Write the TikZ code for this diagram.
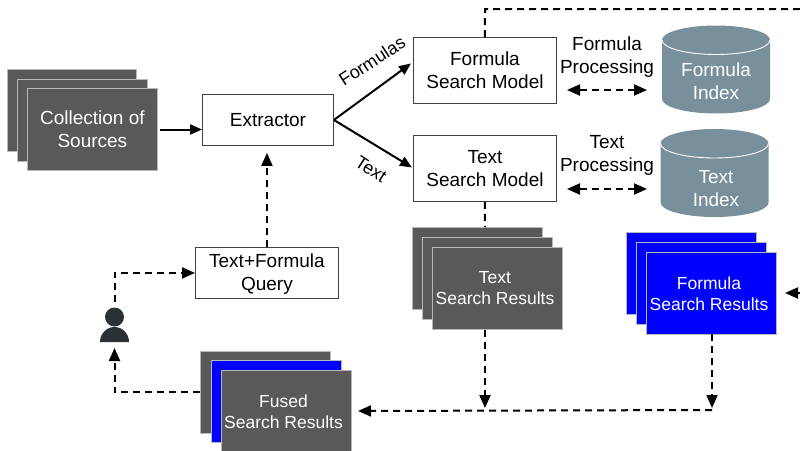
\documentclass[tikz,border=0pt]{standalone}
\usepackage{fontspec}
\setmainfont{Liberation Sans}
\usetikzlibrary{arrows.meta,calc}
\definecolor{stackgrey}{HTML}{595959}
\definecolor{dbcol}{HTML}{78909C}
\definecolor{pure}{HTML}{0000FF}
\definecolor{usercol}{HTML}{2B3035}
\tikzset{
  x=1pt,y=-1pt,
  bigtext/.style={font=\fontsize{19}{23}\selectfont},
  smalltext/.style={font=\fontsize{17.5}{21}\selectfont},
  whitebox/.style={draw=black!75,line width=0.9pt,fill=white,text=black,align=center,bigtext,inner sep=0pt,anchor=north west},
  sheet/.style={draw=white!72!black,line width=0.8pt,fill=#1,anchor=north west,minimum width=130pt,minimum height=82pt,inner sep=0pt},
  solidarrow/.style={draw=black,line width=2pt,-{Triangle[length=12pt,width=10pt]}},
  dasharrow/.style={draw=black,line width=2pt,dash pattern=on 7pt off 5pt,-{Triangle[length=13pt,width=11pt]}},
  dashboth/.style={draw=black,line width=2pt,dash pattern=on 7pt off 5pt,{Triangle[length=13pt,width=11pt]}-{Triangle[length=13pt,width=11pt]}},
  dashline/.style={draw=black,line width=2pt,dash pattern=on 7pt off 5pt},
  lbl/.style={align=center,bigtext,inner sep=0pt},
  edgelbl/.style={align=center,font=\fontsize{18}{22}\selectfont,inner sep=0pt},
  sheetlbl/.style={align=center,smalltext,inner sep=0pt,text=white},
  dbfill/.style={fill=dbcol,draw=none},
  dbrim/.style={draw=white,line width=0.9pt},
}
\begin{document}
\begin{tikzpicture}
\useasboundingbox (0,0) rectangle (800,450);
% source stack
\node[sheet=stackgrey,minimum width=129pt] (s1) at (7,69) {};
\node[sheet=stackgrey] (s2) at (17,79) {};
\node[sheet=stackgrey,text=white,align=center,bigtext] (s3) at (27,88) {Collection of\\Sources};
% boxes
\node[whitebox,minimum width=131pt,minimum height=51pt] (ext) at (202,94) {Extractor};
\node[whitebox,minimum width=143pt,minimum height=66pt] (fsm) at (413,37) {Formula\\Search Model};
\node[whitebox,minimum width=143pt,minimum height=66pt] (tsm) at (413,135) {Text\\Search Model};
\node[whitebox,minimum width=143pt,minimum height=51pt] (query) at (195,247) {\rule{0pt}{17pt}Text+Formula\\Query};
% cylinders
\path[dbfill] (662,40) arc[start angle=180,end angle=0,x radius=54pt,y radius=14.5pt] -- (770,99) arc[start angle=0,end angle=-180,x radius=54pt,y radius=14.5pt] -- cycle;
\draw[dbrim] (662,40) arc[start angle=180,end angle=360,x radius=54pt,y radius=14.5pt];
\path[dbfill] (660.5,143.5) arc[start angle=180,end angle=0,x radius=54pt,y radius=14.5pt] -- (768.5,202.5) arc[start angle=0,end angle=-180,x radius=54pt,y radius=14.5pt] -- cycle;
\draw[dbrim] (660.5,143.5) arc[start angle=180,end angle=360,x radius=54pt,y radius=14.5pt];
\node[text=white,lbl] (fidxt) at (716,81) {Formula\\Index};
\node[text=white,lbl] (tidxt) at (716,189) {Text\\Index};
% result stacks
\node[sheet=stackgrey] (t1) at (412,227) {};
\node[sheet=stackgrey] (t2) at (422,237) {};
\node[sheet=stackgrey] (t3) at (432,247) {};
\node[sheetlbl] (t3l) at (495,288.5) {Text\\Search Results};
\node[sheet=pure] (f1) at (626,232) {};
\node[sheet=pure] (f2) at (636,242) {};
\node[sheet=pure] (f3) at (646,252) {};
\node[sheetlbl] (f3l) at (709,293.5) {Formula\\Search Results};
\node[sheet=stackgrey] (u1) at (200,351) {};
\node[sheet=pure] (u2) at (211,360) {};
\node[sheet=stackgrey] (u3) at (221,370) {};
\node[sheetlbl] (u3l) at (283.5,411.5) {Fused\\Search Results};
% labels
\node[lbl] (lf) at (607,57) {Formula\\Processing};
\node[lbl] (lt) at (607,155) {Text\\Processing};
\node[edgelbl,rotate=33] (formulas) at (372,61) {Formulas};
\node[edgelbl,rotate=-33] (textl) at (371,169) {Text};
% user
\fill[usercol] (114.5,317) circle (9.5pt);
\fill[usercol] (100,342) arc[start angle=180,end angle=0,x radius=14.5pt,y radius=15pt] -- cycle;
% connectors
\coordinate (sa) at (160,129.5);
\draw[solidarrow] (sa) -- (sa -| ext.west);
\draw[solidarrow] (ext.east) -- ($(fsm.west)+(-2,-7)$);
\draw[solidarrow] (ext.east) -- ($(tsm.west)+(-1,-1)$);
\draw[dasharrow] (query.north) -- ($(ext.south)+(-1,7)$);
\coordinate (ua) at (114.5,302);
\draw[dasharrow] (ua) |- (query.west);
\coordinate (ub) at (114.5,348);
\coordinate (ul) at (u1.west |- 0,392);
\draw[dasharrow] (ul) -| (ub);
\coordinate (fa) at (800,9);
\coordinate (fb) at (485,9);
\draw[dashline] (fsm.north) -- (fb) -- (fa);
\draw[dashline] (tsm.south) -- (485,227);
\coordinate (ta) at (485,330);
\coordinate (tb) at (485,408);
\draw[dasharrow] (ta) -- (tb);
\coordinate (fc) at (712,334);
\coordinate (fd) at (712,408);
\draw[dasharrow] (fc) -- (fd);
\coordinate (fe) at (712,410);
\coordinate (ff) at (358,411);
\draw[dasharrow] (fe) -- (ff);
\coordinate (ra) at (567,90);
\coordinate (rb) at (647,90);
\draw[dashboth] (ra) -- (rb);
\coordinate (rc) at (567,189);
\coordinate (rd) at (647,189);
\draw[dashboth] (rc) -- (rd);
\coordinate (re) at (800,293);
\coordinate (rf) at (785,293);
\draw[dasharrow] (re) -- (rf);
\end{tikzpicture}
\end{document}
